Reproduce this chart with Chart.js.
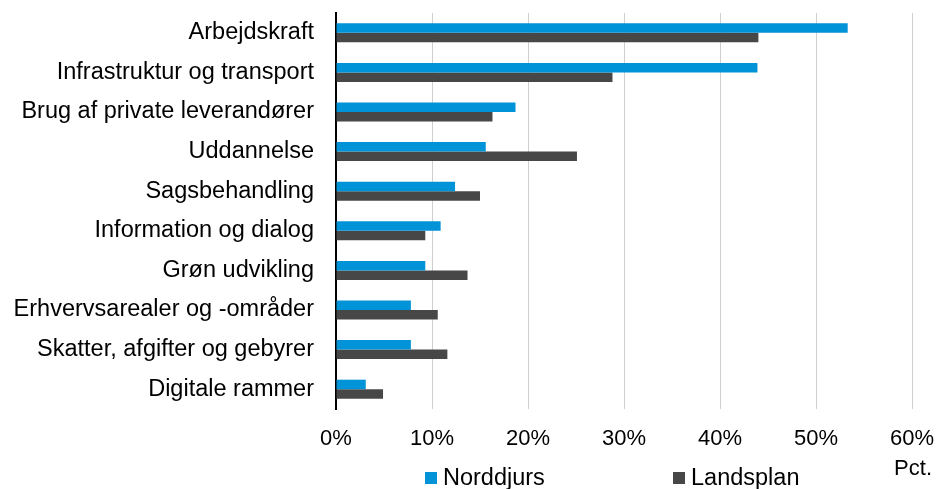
<!DOCTYPE html>
<html>
<head>
<meta charset="utf-8">
<script src="https://cdn.jsdelivr.net/npm/chart.js@4.4.1/dist/chart.umd.min.js"></script>
<style>
  html, body { margin: 0; padding: 0; background: #fff; }
  #wrap { width: 938px; height: 489px; position: relative; }
</style>
</head>
<body>
<div id="wrap"><canvas id="c" width="938" height="489"></canvas></div>
<script>
const categories = [
  "Arbejdskraft",
  "Infrastruktur og transport",
  "Brug af private leverandører",
  "Uddannelse",
  "Sagsbehandling",
  "Information og dialog",
  "Grøn udvikling",
  "Erhvervsarealer og -områder",
  "Skatter, afgifter og gebyrer",
  "Digitale rammer"
];
const norddjurs = [53.3, 43.9, 18.7, 15.6, 12.4, 10.9, 9.3, 7.8, 7.8, 3.1];
const landsplan = [44.0, 28.8, 16.3, 25.1, 15.0, 9.3, 13.7, 10.6, 11.6, 4.9];
const seriesNames = ["Norddjurs", "Landsplan"];
const unitLabel = "Pct.";

const FONT = "'Liberation Sans', Arial, sans-serif";
const TICK_SIZE = 22;
const LABEL_SIZE = 23.5;

const legendPlugin = {
  id: 'customLegend',
  afterDraw(chart) {
    const ctx = chart.ctx;
    const pos = [425, 673];
    ctx.save();
    ctx.font = LABEL_SIZE + 'px ' + FONT;
    ctx.textBaseline = 'middle';
    ctx.textAlign = 'left';
    chart.data.datasets.forEach((ds, i) => {
      ctx.fillStyle = ds.backgroundColor;
      ctx.fillRect(pos[i], 472, 12, 12);
      ctx.fillStyle = '#000';
      ctx.fillText(ds.label, pos[i] + 18, 479);
    });
    ctx.font = TICK_SIZE + 'px ' + FONT;
    ctx.textAlign = 'right';
    ctx.fillText(unitLabel, 932, 469);
    ctx.restore();
  }
};

function zeroPad(s) { s.paddingTop = 0; s.paddingBottom = 0; s.paddingLeft = 0; s.paddingRight = 0; }

new Chart(document.getElementById('c'), {
  type: 'bar',
  data: {
    labels: categories,
    datasets: [
      { label: seriesNames[0], data: norddjurs, backgroundColor: '#0093D7' },
      { label: seriesNames[1], data: landsplan, backgroundColor: '#474747' }
    ]
  },
  options: {
    indexAxis: 'y',
    responsive: false,
    animation: false,
    devicePixelRatio: 1,
    categoryPercentage: 0.48,
    barPercentage: 1.0,
    layout: { padding: { top: 13, right: 26, bottom: 40, left: 0 } },
    plugins: {
      legend: { display: false },
      tooltip: { enabled: false }
    },
    scales: {
      x: {
        min: 0, max: 60,
        ticks: {
          stepSize: 10,
          padding: 17,
          color: '#000',
          font: { family: FONT, size: TICK_SIZE },
          callback: v => v + '%'
        },
        grid: { color: '#cfcfcf', lineWidth: 1, drawTicks: false },
        border: { display: false },
        afterFit: s => { s.height = 40; zeroPad(s); }
      },
      y: {
        ticks: {
          padding: 22,
          color: '#000',
          font: { family: FONT, size: LABEL_SIZE }
        },
        grid: { display: false, drawTicks: false },
        border: { display: true, color: '#000', width: 2 },
        afterFit: s => { s.width = 336; zeroPad(s); }
      }
    }
  },
  plugins: [legendPlugin]
});
</script>
</body>
</html>
